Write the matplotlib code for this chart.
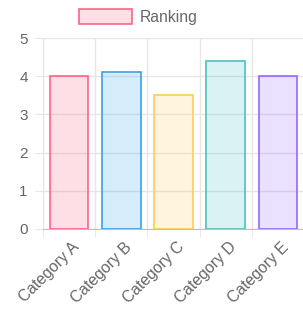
import matplotlib.pyplot as plt
import matplotlib.transforms as mtransforms
from matplotlib.patches import Patch

categories = ['Category A', 'Category B', 'Category C', 'Category D', 'Category E']
rankings = [4.0, 4.1, 3.5, 4.4, 4.0]
border_colors = [(255, 99, 132), (54, 162, 235), (255, 205, 86), (75, 192, 192), (153, 102, 255)]

plt.rcParams['font.family'] = ['Liberation Sans', 'DejaVu Sans']

edge = [tuple(c / 255 for c in rgb) for rgb in border_colors]
fill = [tuple(c / 255 for c in rgb) + (0.2,) for rgb in border_colors]

fig = plt.figure(figsize=(3.03, 3.17), dpi=100)
ax = fig.add_axes([43 / 303, 88 / 317, 261 / 303, 191 / 317])

x = list(range(len(categories)))
ax.bar(x, rankings, width=0.74, color=fill, edgecolor=edge, linewidth=1.2, zorder=3)

ax.set_xlim(-0.5, len(categories) - 0.5)
ax.set_ylim(0, 5)
ax.set_yticks([0, 1, 2, 3, 4, 5])

grid_c = '#e6e6e6'
ax.set_xticks([i - 0.5 for i in range(len(categories) + 1)], minor=True)
ax.set_xticks(x)
ax.grid(which='minor', axis='x', color=grid_c, linewidth=1)
ax.grid(which='major', axis='y', color=grid_c, linewidth=1)
ax.tick_params(axis='x', which='major', length=0)
ax.tick_params(axis='x', which='minor', length=6, color=grid_c)
ax.tick_params(axis='y', length=6, color=grid_c, labelsize=11, labelcolor='#666666', pad=5)

for s in ['top', 'right']:
    ax.spines[s].set_visible(False)
ax.spines['left'].set_color(grid_c)
ax.spines['bottom'].set_color('#bfbfbf')

# rotated category labels, nudged so their upper end sits just right of the bar centre
ax.set_xticklabels(categories, rotation=45, ha='right', va='top', rotation_mode='anchor',
                   fontsize=11.3, color='#666666')
offset = mtransforms.ScaledTranslation(2 / 72, -4 / 72, fig.dpi_scale_trans)
for lbl in ax.get_xticklabels():
    lbl.set_transform(lbl.get_transform() + offset)

handle = Patch(facecolor=fill[0], edgecolor=edge[0], linewidth=1.2)
fig.legend([handle], ['Ranking'], loc='center', bbox_to_anchor=(138 / 303, 1 - 17 / 317),
           frameon=False, fontsize=11.3, labelcolor='#666666',
           handlelength=3.4, handleheight=1.05, handletextpad=0.45)

fig.savefig('out.png', dpi=100)
